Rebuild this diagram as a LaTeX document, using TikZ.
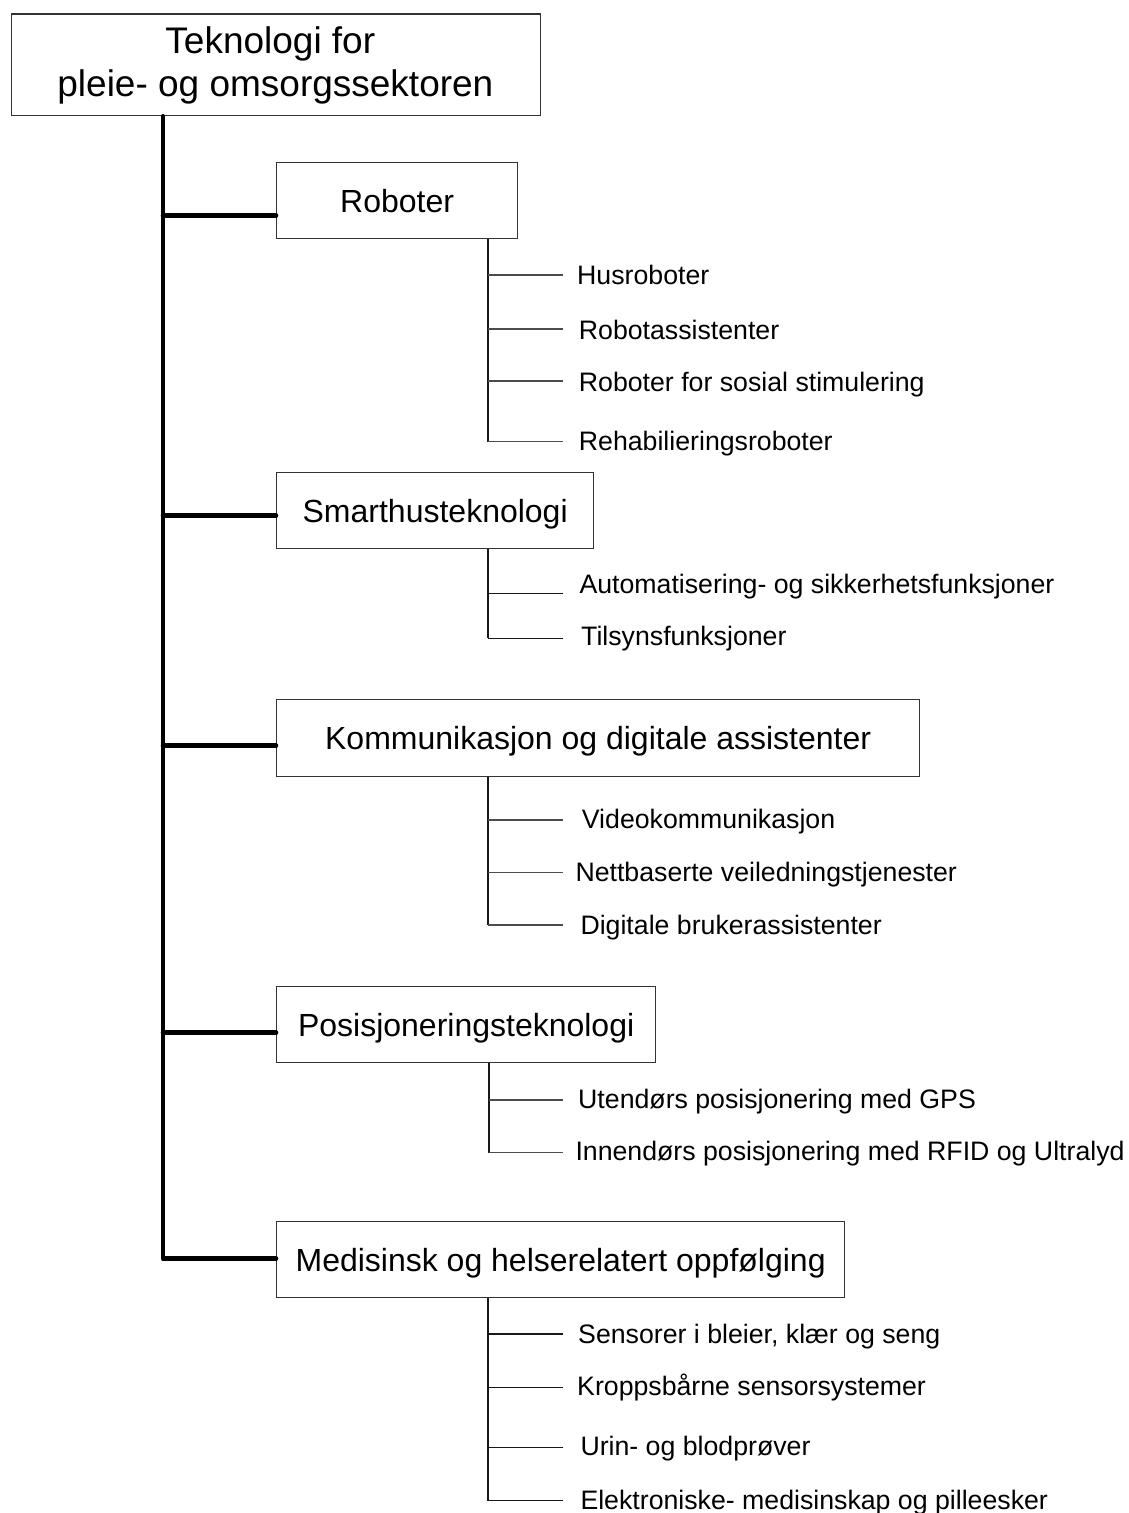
\documentclass[tikz,border=0pt]{standalone}
\usepackage{fontspec}
\setmainfont{Liberation Sans}
\begin{document}
\begin{tikzpicture}[x=1pt,y=-1pt,
  box/.style={draw=black!80, line width=1.3pt, inner sep=0pt, anchor=north west,
    text height=22.9pt, text depth=0pt, font=\fontsize{32}{38}\selectfont},
  toptext/.style={anchor=base, inner sep=0pt, font=\fontsize{37}{43}\selectfont},
  item/.style={anchor=west, inner sep=0pt, text height=19.1pt, text depth=0pt,
    font=\fontsize{26.7}{31}\selectfont},
  trunk/.style={line width=4.6pt, line cap=round, line join=round},
  stem/.style={line width=1.2pt, draw=black!90},
  twig/.style={line width=1.2pt, draw=black!70}]
\useasboundingbox (0,0) rectangle (1128,1513);

% top box
\node[box, minimum width=529.3pt, minimum height=101.7pt] (top) at (10.7,13.3) {};
\node[toptext] (top1) at (270.3,53.3) {Teknologi for};
\node[toptext] (top2) at (275.4,96.7) {pleie- og omsorgssektoren};

% category boxes
\node[box, minimum width=241pt, minimum height=76pt] (rob) at (276,162) {Roboter};
\node[box, minimum width=317pt, minimum height=76pt] (sm) at (276,472) {Smarthusteknologi};
\node[box, minimum width=643pt, minimum height=77pt] (kom) at (276,699) {Kommunikasjon og digitale assistenter};
\node[box, minimum width=379pt, minimum height=76pt] (pos) at (276,986) {Posisjoneringsteknologi};
\node[box, minimum width=568pt, minimum height=76pt] (med) at (276,1221) {Medisinsk og helserelatert oppfølging};

% trunk
\coordinate (tx) at (163,0);
\coordinate (rb) at ([yshift=-15pt]rob.west);
\coordinate (sb) at ([yshift=-5pt]sm.west);
\coordinate (kb) at ([yshift=-7.5pt]kom.west);
\coordinate (pb) at ([yshift=-8pt]pos.west);
\coordinate (mb) at ([yshift=1pt]med.west);
\draw[trunk] (top.south -| tx) |- (mb);
\draw[trunk] (tx |- rb) -- (rb);
\draw[trunk] (tx |- sb) -- (sb);
\draw[trunk] (tx |- kb) -- (kb);
\draw[trunk] (tx |- pb) -- (pb);

% sub items: Roboter
\coordinate (sx) at (488,0);
\coordinate (r1) at (563,275);
\coordinate (r2) at (563,329);
\coordinate (r3) at (563,381);
\coordinate (r4) at (563,441.7);
\draw[stem] (rob.south -| sx) -- (sx |- r4);
\foreach \c in {r1,r2,r3,r4} \draw[twig] (sx |- \c) -- (\c);
\node[item] (t1) at (577,275) {Husroboter};
\node[item] (t2) at (578.7,330) {Robotassistenter};
\node[item] (t3) at (578.7,381.7) {Roboter for sosial stimulering};
\node[item] (t4) at (578.7,441) {Rehabilieringsroboter};

% Smarthus
\coordinate (s1) at (563,593.3);
\coordinate (s2) at (563,638.3);
\draw[stem] (sm.south -| sx) -- (sx |- s2);
\foreach \c in {s1,s2} \draw[stem] (sx |- \c) -- (\c);
\node[item] (t5) at (579.3,584) {Automatisering- og sikkerhetsfunksjoner};
\node[item] (t6) at (581,635.8) {Tilsynsfunksjoner};

% Kommunikasjon
\coordinate (k1) at (563,820);
\coordinate (k2) at (563,872.7);
\coordinate (k3) at (563,925);
\draw[stem] (kom.south -| sx) -- (sx |- k3);
\foreach \c in {k1,k2,k3} \draw[twig] (sx |- \c) -- (\c);
\node[item] (t7) at (581.7,818.7) {Videokommunikasjon};
\node[item] (t8) at (575.3,872) {Nettbaserte veiledningstjenester};
\node[item] (t9) at (580.3,924.7) {Digitale brukerassistenter};

% Posisjonering
\coordinate (px) at (489,0);
\coordinate (p1) at (563,1100);
\coordinate (p2) at (563,1152.7);
\draw[stem] (pos.south -| px) -- (px |- p2);
\foreach \c in {p1,p2} \draw[twig] (px |- \c) -- (\c);
\node[item] (t10) at (578,1098.5) {Utendørs posisjonering med GPS};
\node[item] (t11) at (575.3,1151.3) {Innendørs posisjonering med RFID og Ultralyd};

% Medisinsk
\coordinate (m1) at (563,1334);
\coordinate (m2) at (563,1387.7);
\coordinate (m3) at (563,1447.3);
\coordinate (m4) at (563,1500.7);
\draw[stem] (med.south -| sx) -- (sx |- m4);
\foreach \c in {m1,m2,m3,m4} \draw[stem] (sx |- \c) -- (\c);
\node[item] (t12) at (578,1333.7) {Sensorer i bleier, klær og seng};
\node[item] (t13) at (577,1385.5) {Kroppsbårne sensorsystemer};
\node[item] (t14) at (580.3,1446) {Urin- og blodprøver};
\node[item] (t15) at (580.3,1500.3) {Elektroniske- medisinskap og pilleesker};
\end{tikzpicture}
\end{document}
